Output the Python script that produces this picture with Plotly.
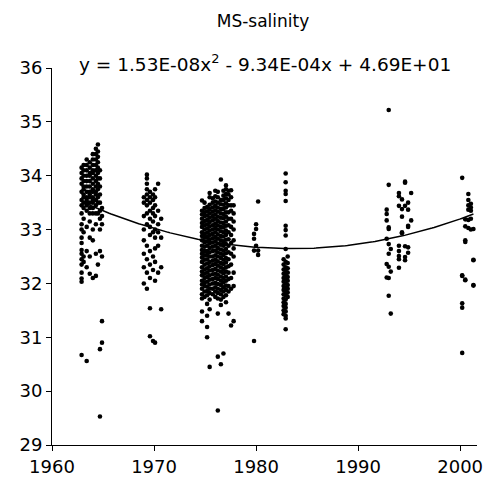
import plotly.graph_objects as go
import numpy as np

# ---- data: one entry per sampling column (decimal year) ----
group_years = [
    1962.9, 1963.1, 1963.4, 1963.7, 1964.0, 1964.3, 1964.5, 1964.7, 1964.9,
    1969.0, 1969.3, 1969.6, 1969.9, 1970.1, 1970.4, 1970.7,
    1974.7, 1974.95, 1975.2, 1975.45, 1975.75, 1976.0, 1976.25, 1976.55,
    1976.8, 1977.05, 1977.3, 1977.55, 1977.8,
    1979.8, 1980.0, 1980.2,
    1982.7, 1982.9, 1983.1,
    1992.8, 1993.0, 1993.2,
    1994.0, 1994.3, 1994.6, 1994.9, 1995.2,
    2000.2, 2000.5, 2000.8, 2001.05, 2001.3,
]

group_salinity = [
    # 1963-1965
    [30.67, 32.03, 32.09, 32.2, 32.35, 32.45, 32.55, 32.62, 32.75, 32.85, 33.0, 33.1, 33.3, 33.45, 33.55, 33.7, 33.85, 33.95, 34.05, 34.15],
    [32.4, 32.5, 32.95, 33.2, 33.4, 33.5, 33.6, 33.65, 33.75, 33.8, 33.9, 34.0, 34.1, 34.2],
    [30.56, 32.3, 32.6, 33.05, 33.35, 33.45, 33.5, 33.55, 33.6, 33.7, 33.8, 33.9, 34.0, 34.1, 34.2, 34.3],
    [32.18, 32.5, 32.85, 33.15, 33.3, 33.4, 33.5, 33.6, 33.65, 33.7, 33.8, 33.9, 34.0, 34.05, 34.15, 34.25],
    [32.1, 32.8, 33.0, 33.3, 33.4, 33.5, 33.55, 33.6, 33.7, 33.75, 33.85, 33.95, 34.05, 34.1, 34.2, 34.3, 34.4],
    [32.14, 32.55, 33.1, 33.3, 33.45, 33.55, 33.65, 33.7, 33.8, 33.9, 34.0, 34.1, 34.2, 34.3, 34.4, 34.5],
    [32.35, 33.3, 33.5, 33.6, 33.75, 33.85, 33.95, 34.05, 34.15, 34.25, 34.35, 34.45, 34.58],
    [29.53, 30.78, 32.6, 33.0, 33.2, 33.35, 33.5, 33.65, 33.8, 33.95, 34.1],
    [30.9, 31.3, 32.5, 33.1, 33.25, 33.4],
    # 1969-1970
    [32.0, 32.3, 32.55, 32.8, 33.0, 33.25, 33.5, 33.6],
    [31.9, 32.2, 32.45, 32.7, 33.1, 33.3, 33.45, 33.55, 33.65, 33.75, 33.85, 33.95, 34.02],
    [31.02, 31.54, 32.1, 32.35, 32.6, 32.9, 33.05, 33.2, 33.35, 33.5, 33.6, 33.7],
    [30.93, 32.25, 32.5, 32.95, 33.15, 33.3, 33.4, 33.55, 33.65],
    [30.9, 32.05, 32.4, 32.65, 32.85, 33.0, 33.25, 33.45, 33.6, 33.75],
    [32.2, 32.7, 32.95, 33.1, 33.35, 33.85],
    [31.52, 32.3, 32.85, 33.2],
    # 1975-1977
    [31.3, 31.48, 31.72, 31.8, 31.9, 31.98, 32.05, 32.15, 32.22, 32.3, 32.4, 32.48, 32.55, 32.62, 32.7, 32.8, 32.88, 32.95, 33.05, 33.12, 33.2, 33.28, 33.35, 33.54],
    [31.75, 31.85, 31.95, 32.02, 32.1, 32.18, 32.26, 32.35, 32.44, 32.52, 32.6, 32.68, 32.76, 32.85, 32.92, 33.0, 33.08, 33.16, 33.25, 33.32, 33.4, 33.5],
    [31.0, 31.19, 31.4, 31.62, 31.78, 31.86, 31.94, 32.03, 32.12, 32.2, 32.28, 32.37, 32.45, 32.53, 32.6, 32.7, 32.78, 32.86, 32.94, 33.02, 33.1, 33.18, 33.26, 33.34, 33.42],
    [30.45, 31.52, 31.7, 31.82, 31.9, 31.98, 32.07, 32.15, 32.24, 32.32, 32.4, 32.5, 32.58, 32.66, 32.74, 32.82, 32.9, 32.98, 33.06, 33.14, 33.22, 33.3, 33.38, 33.46, 33.6, 33.68],
    [31.8, 31.9, 32.0, 32.08, 32.17, 32.25, 32.34, 32.42, 32.5, 32.6, 32.68, 32.76, 32.84, 32.92, 33.0, 33.08, 33.17, 33.25, 33.33, 33.41, 33.5, 33.58],
    [31.75, 31.85, 31.93, 32.01, 32.1, 32.18, 32.27, 32.36, 32.44, 32.52, 32.61, 32.7, 32.78, 32.86, 32.95, 33.03, 33.11, 33.2, 33.28, 33.36, 33.44, 33.52, 33.62, 33.72],
    [29.64, 30.64, 31.44, 31.72, 31.82, 31.9, 31.99, 32.08, 32.16, 32.24, 32.33, 32.41, 32.5, 32.58, 32.66, 32.74, 32.83, 32.91, 33.0, 33.08, 33.16, 33.24, 33.33, 33.41, 33.5, 33.6, 33.7],
    [30.5, 31.6, 31.7, 31.8, 31.88, 31.97, 32.05, 32.13, 32.22, 32.3, 32.38, 32.47, 32.55, 32.63, 32.72, 32.8, 32.88, 32.97, 33.05, 33.13, 33.22, 33.3, 33.38, 33.47, 33.55, 33.93],
    [30.7, 31.75, 31.85, 31.93, 32.02, 32.1, 32.19, 32.27, 32.36, 32.44, 32.53, 32.61, 32.7, 32.78, 32.87, 32.95, 33.04, 33.12, 33.21, 33.29, 33.38, 33.46, 33.55, 33.63, 33.72],
    [31.65, 31.78, 31.88, 31.96, 32.05, 32.13, 32.22, 32.3, 32.39, 32.47, 32.56, 32.64, 32.73, 32.81, 32.9, 32.98, 33.07, 33.15, 33.24, 33.32, 33.41, 33.49, 33.58, 33.66, 33.75, 33.82],
    [31.44, 31.85, 31.95, 32.08, 32.2, 32.32, 32.45, 32.58, 32.7, 32.82, 32.95, 33.08, 33.2, 33.32, 33.45, 33.55, 33.65, 33.72],
    [31.22, 31.9, 32.1, 32.35, 32.55, 32.75, 32.9, 33.05, 33.2, 33.35, 33.45, 33.6, 33.73],
    [31.3, 31.95, 32.2, 32.5, 32.65, 32.8, 33.0, 33.15, 33.3, 33.45],
    # 1980
    [30.93, 32.61, 32.83, 32.92],
    [32.7, 33.01, 33.1],
    [32.53, 32.61, 33.52],
    # 1983
    [31.43, 31.5, 31.58, 31.65, 31.72, 31.8, 31.88, 31.95, 32.03, 32.1, 32.18, 32.26, 32.35, 32.45],
    [31.15, 31.35, 31.4, 31.48, 31.55, 31.62, 31.7, 31.78, 31.85, 31.92, 32.0, 32.08, 32.15, 32.22, 32.3, 32.4, 32.64, 32.89, 32.99, 33.07, 33.53, 33.66, 33.72, 33.88, 34.04],
    [31.75, 31.83, 31.9, 31.97, 32.05, 32.12, 32.2, 32.28, 32.38, 32.5],
    # 1993
    [32.11, 32.36, 32.83, 33.17, 33.29, 33.37],
    [31.77, 32.1, 32.31, 32.55, 32.73, 33.01, 33.04, 33.83, 35.22],
    [31.44, 32.22, 32.64],
    # 1994-1995
    [32.29, 32.45, 32.51, 32.6, 32.7, 33.44, 33.62, 33.68],
    [32.93, 32.95, 33.24, 33.38, 33.56],
    [32.43, 32.49, 32.69, 33.44, 33.87, 33.89],
    [32.57, 32.67, 33.05, 33.07, 33.37, 33.5],
    [33.17, 33.68],
    # 2000-2001
    [30.71, 31.55, 31.63, 32.14, 32.15, 33.96],
    [32.06, 32.07, 32.77, 32.8, 33.06, 33.19],
    [33.03, 33.18, 33.37, 33.45, 33.55, 33.66],
    [33.0, 33.2, 33.35, 33.41, 33.48],
    [31.96, 31.97, 32.43, 32.44, 33.01],
]

title_text = "MS-salinity"
# coefficients printed on the chart (x = Excel date serial number)
trend_a, trend_b, trend_c = 1.53e-08, -9.34e-04, 4.69e01
trend_label = "y = 1.53E-08x<sup>2</sup> - 9.34E-04x + 4.69E+01"

x_ticks = [1960, 1970, 1980, 1990, 2000]
y_ticks = [29, 30, 31, 32, 33, 34, 35, 36]

# ---- expand groups ----
xs, ys = [], []
for yr, vals in zip(group_years, group_salinity):
    xs.extend([yr] * len(vals))
    ys.extend(vals)

# trendline from printed coefficients, over the data span
tx = np.linspace(min(xs), max(xs), 200)
serial = 21916 + (tx - 1960) * 365.25
ty = trend_a * serial**2 + trend_b * serial + trend_c

FONT = "DejaVu Sans, Verdana, sans-serif"

fig = go.Figure()
fig.add_trace(go.Scatter(x=xs, y=ys, mode="markers",
                         marker=dict(size=4.6, color="black", line=dict(width=0)),
                         hoverinfo="skip", showlegend=False, cliponaxis=False))
fig.add_trace(go.Scatter(x=tx, y=ty, mode="lines",
                         line=dict(color="black", width=1.5),
                         hoverinfo="skip", showlegend=False))

# page body has an 8px default margin, so the figure is sized/positioned to compensate
fig.update_layout(
    width=483, height=483,
    margin=dict(l=44, r=8, t=60, b=46),
    paper_bgcolor="white", plot_bgcolor="white",
    font=dict(family=FONT, color="black", size=18),
    title=dict(text=title_text, x=0.528, xanchor="center", y=0.972, yanchor="middle",
               font=dict(size=17, family=FONT, color="black")),
    xaxis=dict(range=[1960, 2001.65], tickvals=x_ticks, ticks="outside", ticklen=5,
               tickcolor="black", showline=True, linecolor="black", linewidth=1,
               showgrid=False, zeroline=False, tickfont=dict(size=18)),
    yaxis=dict(range=[29, 36], tickvals=y_ticks, ticks="outside", ticklen=5,
               tickcolor="black", showline=True, linecolor="black", linewidth=1,
               showgrid=False, zeroline=False, tickfont=dict(size=18)),
    annotations=[dict(text=trend_label, xref="paper", yref="paper",
                      x=0.501, y=1.013, xanchor="center", yanchor="middle",
                      showarrow=False, font=dict(size=18.5, family=FONT, color="black"))],
)

fig.write_html("out.html")
